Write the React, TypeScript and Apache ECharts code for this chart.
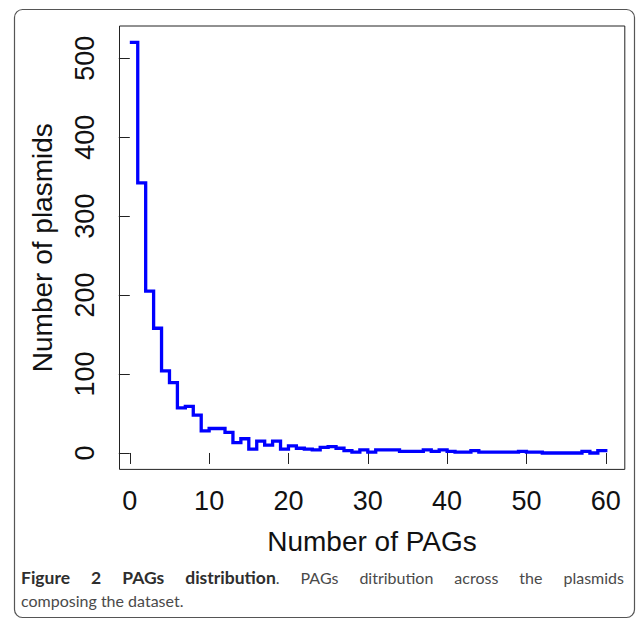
import React, { useEffect, useRef } from "react";
import * as echarts from "echarts";

// Number of plasmids having 0..60 PAGs
const pagCounts = [
  520, 342, 205, 158, 104, 89, 57, 59, 48, 28,
  31, 31, 26, 13, 18, 5, 15, 10, 15, 5,
  9, 6, 5, 4, 7, 8, 6, 3, 1, 4,
  1, 4, 4, 4, 2, 2, 2, 4, 2, 4,
  2, 1, 1, 3, 1, 1, 1, 1, 1, 2,
  1, 1, 0, 0, 0, 0, 0, 2, 0, 3,
  1,
];
const pagNumbers = pagCounts.map((_, i) => i);

const xTickValues = [0, 10, 20, 30, 40, 50, 60];
const yTickValues = [0, 100, 200, 300, 400, 500];

const xTitle = "Number of PAGs";
const yTitle = "Number of plasmids";

// caption: words made of segments (bold or regular)
const captionLine1 = [
  [{ t: "Figure", b: true }],
  [{ t: "2", b: true }],
  [{ t: "PAGs", b: true }],
  [{ t: "distribution", b: true }, { t: ".", b: false }],
  [{ t: "PAGs", b: false }],
  [{ t: "ditribution", b: false }],
  [{ t: "across", b: false }],
  [{ t: "the", b: false }],
  [{ t: "plasmids", b: false }],
];
const captionLine2 = "composing the dataset.";

const AXIS_FONT = '"Liberation Sans", Arial, Helvetica, sans-serif';
const CAP_FONT = 'Lato, "Open Sans", sans-serif';
const CAP_SIZE = 16;
const CAP_BOLD_SIZE = 17.5;

function buildCaption(): any[] {
  const canvas = document.createElement("canvas");
  const ctx = canvas.getContext("2d")!;
  const measure = (t: string, b: boolean) => {
    ctx.font = b
      ? `bold ${CAP_BOLD_SIZE}px ${CAP_FONT}`
      : `${CAP_SIZE}px ${CAP_FONT}`;
    return ctx.measureText(t).width;
  };
  const left = 21;
  const right = 624;
  const wordWidths = captionLine1.map((w) =>
    w.reduce((s, seg) => s + measure(seg.t, seg.b), 0)
  );
  const total = wordWidths.reduce((a, b) => a + b, 0);
  const gap = (right - left - total) / (captionLine1.length - 1);
  const els: any[] = [];
  let x = left;
  captionLine1.forEach((w, i) => {
    let sx = x;
    w.forEach((seg) => {
      els.push({
        type: "text",
        x: sx,
        y: seg.b ? 577.3 : 577,
        silent: true,
        style: {
          text: seg.t,
          fontFamily: CAP_FONT,
          fontSize: seg.b ? CAP_BOLD_SIZE : CAP_SIZE,
          fontWeight: seg.b ? "bold" : "normal",
          fill: seg.b ? "#2e2e2e" : "#4a4a4a",
          align: "left",
          verticalAlign: "middle",
        },
      });
      sx += measure(seg.t, seg.b);
    });
    x += wordWidths[i] + gap;
  });
  els.push({
    type: "text",
    x: left,
    y: 600,
    silent: true,
    style: {
      text: captionLine2,
      fontFamily: CAP_FONT,
      fontSize: CAP_SIZE,
      fill: "#4a4a4a",
      align: "left",
      verticalAlign: "middle",
    },
  });
  return els;
}

export default function App() {
  const ref = useRef<HTMLDivElement>(null);

  useEffect(() => {
    if (!ref.current) return;
    const chart = echarts.init(ref.current, undefined, { renderer: "svg" });
    const option: any = {
      animation: false,
      grid: {
        left: 119.5,
        right: 11.2,
        top: 26,
        bottom: 150.6,
        show: true,
        borderColor: "#222",
        borderWidth: 1,
        backgroundColor: "transparent",
      },
      xAxis: {
        type: "value",
        min: -1.3,
        max: 62.4,
        axisLine: { show: false },
        splitLine: { show: false },
        axisTick: {
          show: true,
          length: 11,
          customValues: xTickValues,
          lineStyle: { color: "#222", width: 1 },
        },
        axisLabel: {
          customValues: xTickValues,
          margin: 18,
          fontSize: 27,
          fontFamily: AXIS_FONT,
          color: "#111",
        },
      },
      yAxis: {
        type: "value",
        min: -20.8,
        max: 540.8,
        axisLine: { show: false },
        splitLine: { show: false },
        axisTick: {
          show: true,
          length: 11,
          customValues: yTickValues,
          lineStyle: { color: "#222", width: 1 },
        },
        axisLabel: {
          customValues: yTickValues,
          rotate: 90,
          margin: 21.5,
          fontSize: 27,
          fontFamily: AXIS_FONT,
          color: "#111",
        },
      },
      series: [
        {
          type: "line",
          step: "end",
          data: pagNumbers.map((x, i) => [x, pagCounts[i]]),
          showSymbol: false,
          symbol: "none",
          clip: false,
          lineStyle: { color: "#0000ff", width: 3.3, cap: "butt", join: "miter" },
        },
      ],
      graphic: [
        {
          type: "rect",
          silent: true,
          z: -10,
          shape: { x: 14.5, y: 9.5, width: 620, height: 608, r: 8 },
          style: { fill: "none", stroke: "#555", lineWidth: 1.2 },
        },
        {
          type: "text",
          x: 372,
          y: 541,
          silent: true,
          style: {
            text: xTitle,
            fontFamily: AXIS_FONT,
            fontSize: 28,
            fill: "#111",
            align: "center",
            verticalAlign: "middle",
          },
        },
        {
          type: "text",
          x: 42,
          y: 247.7,
          rotation: Math.PI / 2,
          silent: true,
          style: {
            text: yTitle,
            fontFamily: AXIS_FONT,
            fontSize: 28,
            fill: "#111",
            align: "center",
            verticalAlign: "middle",
          },
        },
        ...buildCaption(),
      ],
    };
    chart.setOption(option);
    return () => chart.dispose();
  }, []);

  return (
    <div
      ref={ref}
      style={{ position: "absolute", left: 0, top: 0, width: 636, height: 620 }}
    />
  );
}
